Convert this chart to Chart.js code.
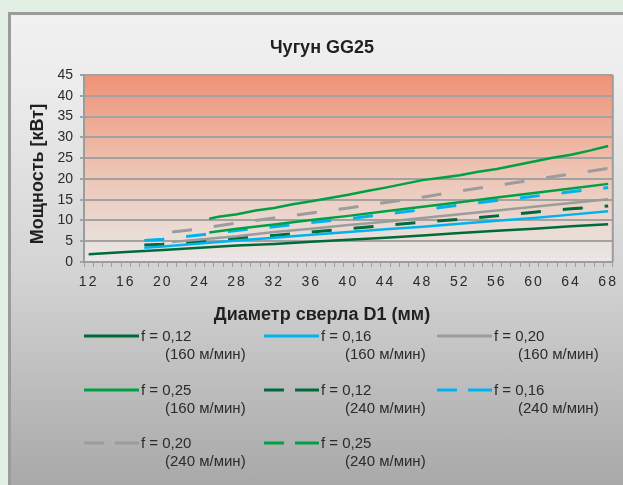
<!DOCTYPE html>
<html lang="ru">
<head>
<meta charset="UTF-8">
<title>Чугун GG25</title>
<script src="https://cdn.jsdelivr.net/npm/chart.js"></script>
<style>
  body { margin: 0; background: #e4efe4; }
  #wrap { position: relative; width: 623px; height: 485px; overflow: hidden; }
  #frame {
    position: absolute; left: 8px; top: 12px; width: 640px; height: 473px;
    border-left: 3px solid #9b9b9b; border-top: 3px solid #9b9b9b;
    background: linear-gradient(to bottom, #f1f1f1 0%, #ececec 15%, #d3d3d3 55%, #a8a8a8 100%);
  }
  #chart { position: absolute; left: 0; top: 0; }
  #legend { position: absolute; left: 84px; top: 0; font: 15px "Liberation Sans", Arial, sans-serif; color: #2b2b2b; }
  .item { position: absolute; width: 180px; height: 40px; }
  .item svg { position: absolute; left: 0; top: 0; }
  .item .f { position: absolute; left: 57px; top: -9px; white-space: nowrap; }
  .item .v { position: absolute; left: 81px; top: 9px; white-space: nowrap; }
</style>
</head>
<body>
<div id="wrap">
  <div id="frame"></div>
  <canvas id="chart" width="623" height="485"></canvas>
  <div id="legend"></div>
</div>
<script>
// drill diameter categories (mm)
const diameters = ['12','13','14','15','16','17','18','19','20','21','22','23','24','25','26','27','28','29','30',
  '31','32','33','34','35','36','37','38','39','40','41','42','43','44','45','46','47','48','49','50',
  '51','52','53','54','55','56','57','58','59','60','61','62','63','64','65','66','67','68'];
const xTickLabels = ['12','16','20','24','28','32','36','40','44','48','52','56','60','64','68'];

// power [kW]: [diameter, value]
const f012v160 = [[12,1.85],[16,2.4],[20,2.9],[24,3.45],[28,3.95],[32,4.35],[36,4.85],[40,5.35],[44,5.85],[48,6.4],[52,7.0],[56,7.5],[60,8.0],[64,8.6],[68,9.1]];
const f016v160 = [[18,3.4],[20,3.75],[24,4.45],[28,5.15],[32,5.85],[36,6.55],[40,7.2],[44,7.9],[48,8.5],[52,9.2],[56,9.9],[60,10.6],[64,11.4],[68,12.2]];
const f020v160 = [[21,4.8],[24,5.4],[28,6.2],[32,7.2],[36,8.0],[40,8.9],[44,9.7],[48,10.6],[52,11.5],[56,12.4],[60,13.3],[64,14.2],[68,15.1]];
const f025v160 = [[25,7.1],[28,8.0],[32,9.0],[36,10.1],[40,11.1],[44,12.2],[48,13.3],[52,14.4],[56,15.5],[60,16.6],[64,17.7],[68,18.8]];
const f012v240 = [[18,4.1],[20,4.3],[24,4.9],[28,5.7],[32,6.4],[36,7.2],[40,8.0],[44,8.8],[48,9.6],[52,10.3],[56,11.1],[60,12.0],[64,12.8],[68,13.5]];
const f016v240 = [[18,5.2],[20,5.5],[24,6.5],[28,7.6],[32,8.5],[36,9.5],[40,10.4],[44,11.5],[48,12.6],[52,13.7],[56,14.8],[60,15.8],[64,16.9],[68,17.9]];
const f020v240 = [[21,7.2],[24,8.0],[28,9.4],[32,10.6],[36,11.8],[40,13.0],[44,14.3],[48,15.6],[52,17.1],[56,18.4],[60,19.8],[64,21.2],[68,22.5]];
const f025v240 = [[25,10.4],[26,10.9],[28,11.5],[30,12.4],[32,13.0],[34,13.9],[36,14.6],[38,15.4],[40,16.2],[42,17.1],[44,17.9],[46,18.8],[48,19.7],[50,20.3],[52,20.9],[54,21.7],[56,22.4],[58,23.3],[60,24.2],[62,25.1],[64,25.8],[66,26.8],[68,27.9]];

const feedLabels = ['f = 0,12','f = 0,16','f = 0,20','f = 0,25','f = 0,12','f = 0,16','f = 0,20','f = 0,25'];
const speedLabels = ['(160 м/мин)','(160 м/мин)','(160 м/мин)','(160 м/мин)','(240 м/мин)','(240 м/мин)','(240 м/мин)','(240 м/мин)'];

const chartTitle = 'Чугун GG25';
const xTitle = 'Диаметр сверла D1 (мм)';
const yTitle = 'Мощность [кВт]';

const DARK = '#006b3a', BLUE = '#00b3ef', GRAY = '#9c9c9c', GREEN = '#00a045';
const FONT = '"Liberation Sans", Arial, sans-serif';

const seriesList = [
  { pts: f012v160, color: DARK,  dash: [] },
  { pts: f016v160, color: BLUE,  dash: [] },
  { pts: f020v160, color: GRAY,  dash: [] },
  { pts: f025v160, color: GREEN, dash: [] },
  { pts: f012v240, color: DARK,  dash: [20, 22], legendDash: '20 11 24' },
  { pts: f016v240, color: BLUE,  dash: [20, 22], legendDash: '20 11 24' },
  { pts: f020v240, color: GRAY,  dash: [20, 22], legendDash: '20 11 24' },
  { pts: f025v240, color: GREEN, dash: [],       legendDash: '20 11 24' }
];

const datasets = seriesList.map((s, i) => ({
  label: feedLabels[i] + ' ' + speedLabels[i],
  data: s.pts.map(p => ({ x: String(p[0]), y: p[1] })),
  borderColor: s.color,
  borderWidth: s.dash.length ? 3 : 2.5,
  borderDash: s.dash,
  pointRadius: 0,
  tension: 0,
  fill: false
}));

const plotDecor = {
  id: 'plotDecor',
  beforeDraw(chart) {
    const { ctx, chartArea: a } = chart;
    const g = ctx.createLinearGradient(0, a.top, 0, a.bottom);
    g.addColorStop(0, '#ef9277');
    g.addColorStop(0.5, '#eec3b2');
    g.addColorStop(1, '#e9e7e6');
    ctx.save();
    ctx.fillStyle = g;
    ctx.fillRect(a.left, a.top, a.right - a.left, a.bottom - a.top);
    ctx.restore();
  },
  beforeDatasetsDraw(chart) {
    const { ctx, chartArea: a } = chart;
    ctx.save();
    ctx.strokeStyle = '#9c9c9c';
    ctx.lineWidth = 2;
    ctx.beginPath();
    ctx.moveTo(a.right, a.top);
    ctx.lineTo(a.right, a.bottom);
    ctx.stroke();
    ctx.restore();
  },
  // x tick labels are drawn last (ticks.z = 1), spaced out a little
  afterDatasetsDraw(chart) { chart.ctx.letterSpacing = '2px'; },
  afterDraw(chart) {
    const ctx = chart.ctx;
    ctx.letterSpacing = '0px';
    // titles are centred on the grey frame, not on the plot
    ctx.save();
    ctx.fillStyle = '#231f20';
    ctx.font = 'bold 18px ' + FONT;
    ctx.textAlign = 'center';
    ctx.textBaseline = 'middle';
    ctx.fillText(chartTitle, 322, 48);
    ctx.fillText(xTitle, 322, 315);
    ctx.translate(38, 174);
    ctx.rotate(-Math.PI / 2);
    ctx.fillText(yTitle, 0, 0);
    ctx.restore();
  }
};

new Chart(document.getElementById('chart').getContext('2d'), {
  type: 'line',
  data: { labels: diameters, datasets },
  options: {
    responsive: false,
    animation: false,
    devicePixelRatio: 1,
    layout: { padding: { top: 75, left: 0, right: 9, bottom: 159 } },
    plugins: {
      legend: { display: false },
      tooltip: { enabled: false },
      title: { display: false }
    },
    scales: {
      x: {
        type: 'category',
        offset: true,
        afterFit(s) { s.height = 64; },
        grid: { drawOnChartArea: false, drawTicks: true, tickLength: 5, offset: true, color: '#9c9c9c', lineWidth: 1 },
        border: { display: true, color: '#9c9c9c', width: 2 },
        ticks: {
          autoSkip: false, maxRotation: 0, minRotation: 0, padding: 7, z: 1,
          color: '#2b2b2b', font: { family: FONT, size: 14 },
          callback(v, i) { const l = diameters[i]; return xTickLabels.includes(l) ? l : ''; }
        }
      },
      y: {
        min: 0, max: 45,
        afterFit(s) { s.width = 84; },
        grid: { color: '#a2a2a2', lineWidth: 2, drawTicks: true, tickLength: 4 },
        border: { display: true, color: '#9c9c9c', width: 2 },
        ticks: { stepSize: 5, padding: 7, color: '#2b2b2b', font: { family: FONT, size: 14 } }
      }
    }
  },
  plugins: [plotDecor]
});

// legend: 3 columns, two-line labels
const legend = document.getElementById('legend');
const colX = [0, 180, 353];
const rowY = [336, 390, 443];
seriesList.forEach((s, i) => {
  const item = document.createElement('div');
  item.className = 'item';
  item.style.left = colX[i % 3] + 'px';
  item.style.top = rowY[Math.floor(i / 3)] + 'px';
  const dash = s.legendDash || 'none';
  item.innerHTML =
    '<svg width="56" height="4" style="top:-2px"><line x1="0" y1="2" x2="55" y2="2" stroke="' + s.color +
    '" stroke-width="3" stroke-dasharray="' + dash + '"/></svg>' +
    '<span class="f">' + feedLabels[i] + '</span><span class="v">' + speedLabels[i] + '</span>';
  legend.appendChild(item);
});
</script>
</body>
</html>
